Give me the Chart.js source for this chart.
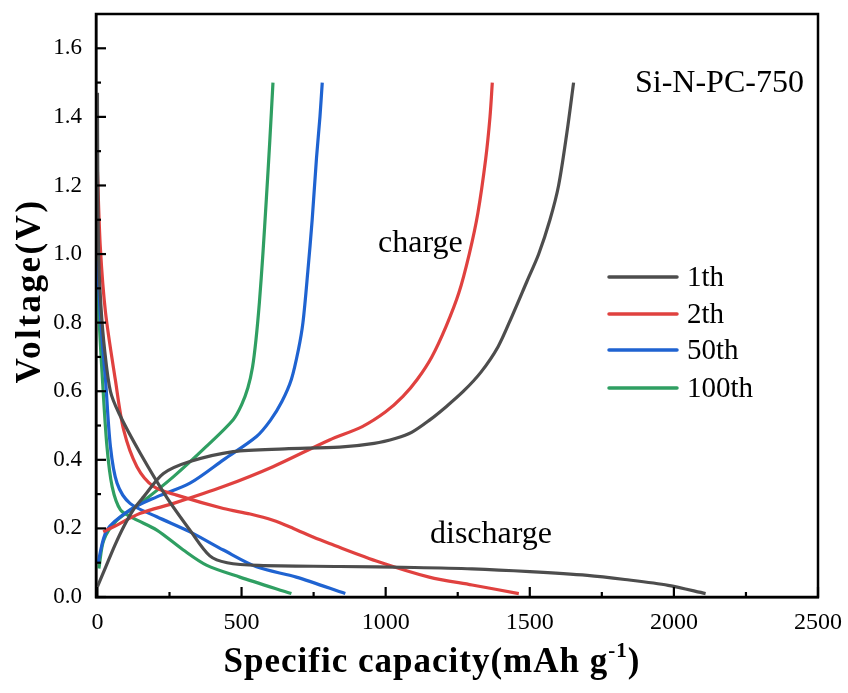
<!DOCTYPE html>
<html>
<head>
<meta charset="utf-8">
<script src="https://cdn.jsdelivr.net/npm/chart.js@4.4.1/dist/chart.umd.min.js"></script>
<style>
  html, body { margin: 0; padding: 0; background: #fff; }
  #wrap { width: 848px; height: 693px; }
</style>
</head>
<body>
<div id="wrap"><canvas id="gcd"></canvas></div>
<script>
// cycle labels and colours
const cycleNames = ['1th', '2th', '50th', '100th'];
const cycleColors = ['#4d4d4d', '#e0413f', '#1f63d1', '#2f9f62'];

// 1th cycle
const cap1Dis = [0, 1, 4, 12, 25, 45, 75, 148, 241, 321, 390, 450, 560, 840, 1100, 1300, 1500, 1700, 1830, 1980, 2110];
const volt1Dis = [1.47, 1.24, 1.0, 0.85, 0.72, 0.6, 0.535, 0.42, 0.29, 0.195, 0.12, 0.1, 0.092, 0.089, 0.086, 0.082, 0.074, 0.063, 0.051, 0.034, 0.01];
const cap1Chg = [0, 30, 60, 91, 125, 160, 229, 321, 471, 650, 840, 960, 1036, 1090, 1151, 1210, 1270, 1330, 1390, 1439, 1490, 1531, 1570, 1600, 1629, 1652];
const volt1Chg = [0.03, 0.09, 0.15, 0.205, 0.255, 0.292, 0.36, 0.395, 0.424, 0.432, 0.437, 0.448, 0.463, 0.48, 0.515, 0.555, 0.6, 0.655, 0.73, 0.82, 0.92, 1.0, 1.1, 1.2, 1.355, 1.5];

// 2th cycle
const cap2Dis = [0, 10, 28, 62, 91, 137, 195, 275, 437, 530, 609, 680, 750, 805, 978, 1151, 1300, 1462];
const volt2Dis = [1.24, 1.02, 0.83, 0.634, 0.487, 0.38, 0.322, 0.297, 0.258, 0.242, 0.224, 0.2, 0.174, 0.156, 0.102, 0.058, 0.035, 0.01];
const cap2Chg = [20, 56, 149, 264, 437, 609, 805, 919, 1000, 1060, 1110, 1160, 1210, 1254, 1290, 1320, 1347, 1362, 1370];
const volt2Chg = [0.19, 0.205, 0.244, 0.273, 0.322, 0.38, 0.458, 0.497, 0.54, 0.585, 0.635, 0.7, 0.79, 0.887, 1.0, 1.12, 1.277, 1.4, 1.5];

// 50th cycle
const cap50Dis = [0, 8, 18, 28, 45, 68, 113, 206, 321, 437, 552, 690, 860];
const volt50Dis = [0.98, 0.85, 0.73, 0.634, 0.439, 0.332, 0.273, 0.234, 0.19, 0.137, 0.088, 0.058, 0.01];
const cap50Chg = [2, 33, 113, 206, 321, 437, 552, 600, 640, 673, 697, 713, 730, 745, 760, 772, 780];
const volt50Chg = [0.1, 0.195, 0.254, 0.292, 0.332, 0.4, 0.468, 0.515, 0.57, 0.635, 0.72, 0.8, 0.95, 1.1, 1.28, 1.4, 1.5];

// 100th cycle
const cap100Dis = [0, 5, 16, 33, 51, 80, 126, 206, 298, 378, 494, 673];
const volt100Dis = [1.03, 0.829, 0.654, 0.439, 0.322, 0.254, 0.229, 0.195, 0.137, 0.093, 0.058, 0.01];
const cap100Chg = [5, 22, 68, 149, 264, 378, 471, 500, 522, 538, 550, 562, 574, 586, 598, 609];
const volt100Chg = [0.083, 0.166, 0.224, 0.273, 0.351, 0.439, 0.517, 0.56, 0.61, 0.67, 0.75, 0.86, 1.0, 1.16, 1.33, 1.5];

// axis ticks
const xTicks = [0, 250, 500, 750, 1000, 1250, 1500, 1750, 2000, 2250, 2500];
const yTicks = [0, 0.1, 0.2, 0.3, 0.4, 0.5, 0.6, 0.7, 0.8, 0.9, 1.0, 1.1, 1.2, 1.3, 1.4, 1.5, 1.6];

const serif = '"Liberation Serif", "Times New Roman", serif';

function toPoints(xs, ys) {
  return xs.map((x, i) => ({ x: x, y: ys[i] }));
}

function curve(xs, ys, idx) {
  return {
    label: cycleNames[idx],
    data: toPoints(xs, ys),
    borderColor: cycleColors[idx],
    backgroundColor: cycleColors[idx],
    borderWidth: 3.2,
    pointRadius: 0,
    showLine: true,
    tension: 0.3,
    fill: false
  };
}

const datasets = [
  curve(cap1Dis, volt1Dis, 0), curve(cap1Chg, volt1Chg, 0),
  curve(cap2Dis, volt2Dis, 1), curve(cap2Chg, volt2Chg, 1),
  curve(cap50Dis, volt50Dis, 2), curve(cap50Chg, volt50Chg, 2),
  curve(cap100Dis, volt100Dis, 3), curve(cap100Chg, volt100Chg, 3)
];

// frame, inward ticks, titles, legend and notes
const decorations = {
  id: 'decorations',
  afterDraw(chart) {
    const ctx = chart.ctx;
    const a = chart.chartArea;
    const xs = chart.scales.x, ys = chart.scales.y;
    ctx.save();
    ctx.strokeStyle = '#000';
    ctx.lineWidth = 2.5;
    ctx.strokeRect(a.left, a.top, a.right - a.left, a.bottom - a.top);

    ctx.lineWidth = 2.2;
    xTicks.forEach(v => {
      const px = xs.getPixelForValue(v);
      const len = v % 500 === 0 ? 10 : 5;
      ctx.beginPath();
      ctx.moveTo(px, a.bottom);
      ctx.lineTo(px, a.bottom - len);
      ctx.stroke();
    });
    yTicks.forEach(v => {
      const py = ys.getPixelForValue(v);
      const len = Math.round(v * 10) % 2 === 0 ? 10 : 5;
      ctx.beginPath();
      ctx.moveTo(a.left, py);
      ctx.lineTo(a.left + len, py);
      ctx.stroke();
    });

    ctx.fillStyle = '#000';
    // y title
    ctx.save();
    ctx.translate(31, 291);
    ctx.rotate(-Math.PI / 2);
    ctx.font = 'bold 35px ' + serif;
    ctx.letterSpacing = '2.5px';
    ctx.textAlign = 'center';
    ctx.textBaseline = 'middle';
    ctx.fillText('Voltage(V)', 0, 0);
    ctx.restore();

    // x title with superscript
    ctx.save();
    ctx.letterSpacing = '1px';
    ctx.textAlign = 'left';
    ctx.textBaseline = 'alphabetic';
    const main = 'Specific capacity(mAh g';
    ctx.font = 'bold 35px ' + serif;
    const w1 = ctx.measureText(main).width;
    const wClose = ctx.measureText(')').width;
    ctx.font = 'bold 21px ' + serif;
    const wSup = ctx.measureText('-1').width;
    const total = w1 + wSup + wClose;
    const x0 = 432 - total / 2;
    const base = 672;
    ctx.font = 'bold 35px ' + serif;
    ctx.fillText(main, x0, base);
    ctx.font = 'bold 21px ' + serif;
    ctx.fillText('-1', x0 + w1, base - 15);
    ctx.font = 'bold 35px ' + serif;
    ctx.fillText(')', x0 + w1 + wSup, base);
    ctx.restore();

    // notes
    ctx.font = '32px ' + serif;
    ctx.textAlign = 'left';
    ctx.textBaseline = 'alphabetic';
    ctx.fillText('Si-N-PC-750', 635, 92);
    ctx.fillText('charge', 378, 252);
    ctx.fillText('discharge', 430, 543);

    // legend
    const rows = [277, 314, 350, 388];
    ctx.font = '29px ' + serif;
    ctx.textBaseline = 'middle';
    ctx.lineCap = 'round';
    cycleNames.forEach((name, i) => {
      ctx.strokeStyle = cycleColors[i];
      ctx.lineWidth = 3.5;
      ctx.beginPath();
      ctx.moveTo(609, rows[i]);
      ctx.lineTo(677, rows[i]);
      ctx.stroke();
      ctx.fillText(name, 687, rows[i] + 1);
    });
    ctx.restore();
  }
};

function createChart() {
  const ctx = document.getElementById('gcd').getContext('2d');
  new Chart(ctx, {
    type: 'scatter',
    data: { datasets: datasets },
    plugins: [decorations],
    options: {
      responsive: true,
      maintainAspectRatio: false,
      animation: false,
      layout: { padding: { top: 14, right: 30, left: 0, bottom: 0 } },
      plugins: {
        legend: { display: false },
        tooltip: { enabled: false }
      },
      scales: {
        x: {
          type: 'linear',
          min: -5,
          max: 2500,
          afterBuildTicks: scale => { scale.ticks = xTicks.map(v => ({ value: v })); },
          afterFit: scale => {
            scale.height = 96;
            scale.paddingLeft = 0;
            scale.paddingRight = 0;
          },
          grid: { display: false },
          border: { display: true, color: '#000', width: 2.5 },
          ticks: {
            color: '#000',
            padding: 3,
            maxRotation: 0,
            autoSkip: false,
            font: { family: serif, size: 24 },
            callback: v => (v % 500 === 0 ? String(v) : '')
          }
        },
        y: {
          min: 0,
          max: 1.7,
          afterBuildTicks: scale => { scale.ticks = yTicks.map(v => ({ value: v })); },
          afterFit: scale => {
            scale.width = 96;
            scale.paddingTop = 0;
            scale.paddingBottom = 0;
          },
          grid: { display: false },
          border: { display: true, color: '#000', width: 2.5 },
          ticks: {
            color: '#000',
            padding: 6,
            autoSkip: false,
            font: { family: serif, size: 23 },
            callback: v => (Math.round(v * 10) % 2 === 0 ? v.toFixed(1) : '')
          }
        }
      }
    }
  });
}

window.onload = function() {
  createChart();
};
</script>
</body>
</html>
